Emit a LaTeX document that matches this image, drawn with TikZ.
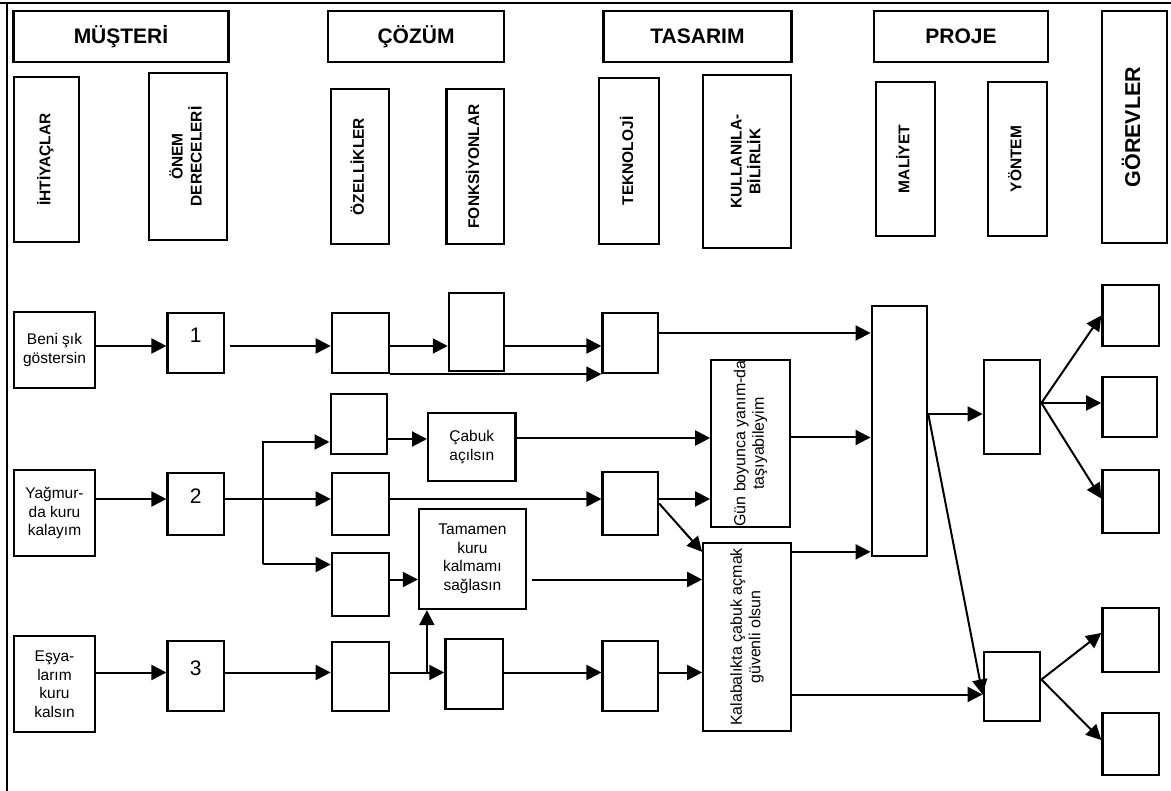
\documentclass[tikz,border=0pt]{standalone}
\usepackage{fontspec}
\setmainfont{Liberation Sans}
\usepackage{graphicx}
\usetikzlibrary{arrows.meta,calc}

\newcommand{\vtext}[1]{\rotatebox{90}{\begin{tabular}{@{}c@{}}#1\end{tabular}}}

\begin{document}
\begin{tikzpicture}[
    x=1pt,
    y=-1pt,
    box/.style={draw, line width=2.3pt, inner sep=0pt},
    wh/.style 2 args={minimum width=#1pt, minimum height=#2pt},
    head/.style={box, font=\bfseries\fontsize{21}{24}\selectfont},
    colhead/.style={box, font=\bfseries\fontsize{15.5}{18.5}\selectfont},
    txt/.style={box, align=center, font=\fontsize{15.5}{18.5}\selectfont},
    vtxt/.style={box, font=\fontsize{16}{18.5}\selectfont},
    numbox/.style={box, font=\fontsize{21}{24}\selectfont, text depth=15pt},
    arr/.style={-{Triangle[length=15pt,width=15pt]}, line width=2pt}
]
    \useasboundingbox (0,0) rectangle (1171,791);

    % Frame
    \draw[line width=1.4pt] (0,3) -- (1171,3);
    \draw[line width=2pt] (7,3) -- (7,791);

    % Headers
    \node[head, wh={215}{51}] (mus) at (121,36.5) {MÜŞTERİ};
    \node[head, wh={176}{51}] (coz) at (416,36.5) {ÇÖZÜM};
    \node[head, wh={188}{51}] (tas) at (697.5,36.5) {TASARIM};
    \node[head, wh={174}{51}] (pro) at (961,36.5) {PROJE};
    \node[box, wh={64.5}{232}, font=\bfseries\fontsize{21.5}{24}\selectfont] (gor) at (1134.5,127) {\vtext{GÖREVLER}};

    % Column labels
    \node[colhead, wh={65.5}{165}] (ihc) at (46.5,159.5) {\vtext{İHTİYAÇLAR}};
    \node[colhead, wh={78}{167}] (onc) at (188.3,156.5) {\vtext{ÖNEM\\DERECELERİ}};
    \node[colhead, wh={58.5}{155}] (ozc) at (360,166.5) {\vtext{ÖZELLİKLER}};
    \node[colhead, wh={57.5}{155}] (fnc) at (475.3,166.5) {\vtext{FONKSİYONLAR}};
    \node[colhead, wh={60}{166}] (tkc) at (629.2,161) {\vtext{TEKNOLOJİ}};
    \node[colhead, wh={88}{173}] (kuc) at (747.3,161.5) {\vtext{KULLANILA-\\BİLİRLİK}};
    \node[colhead, wh={59}{154}] (mac) at (905.6,159) {\vtext{MALİYET}};
    \node[colhead, wh={59}{154}] (yoc) at (1017.6,159) {\vtext{YÖNTEM}};

    % Row 1
    \node[txt, wh={81.5}{76}] (ih1) at (54.5,350) {Beni şık\\göstersin};
    \node[numbox, wh={56.3}{60}] (on1) at (195.7,343) {1};
    \node[box, wh={57.4}{60}] (oz1) at (360.5,343) {};
    \node[box, wh={55}{78}] (fn1) at (476.4,332) {};
    \node[box, wh={55.4}{60}] (tk1) at (630.3,343) {};
    \node[box, wh={55.4}{250}] (mal) at (899.4,431) {};

    % Row 2
    \node[txt, wh={81.5}{86}] (ih2) at (54.5,513) {Yağmur-\\da kuru\\kalayım};
    \node[numbox, wh={56.3}{62}] (on2) at (195.7,504) {2};
    \node[box, wh={56.3}{60}] (oz2a) at (358.8,424) {};
    \node[box, wh={57.4}{62}] (oz2b) at (360.5,504) {};
    \node[box, wh={57.4}{63}] (oz2c) at (360.5,584.5) {};
    \node[txt, wh={87.3}{68}] (cab) at (471.8,447) {Çabuk\\açılsın};
    \node[txt, wh={106.8}{100}] (tam) at (472.4,559) {Tamamen\\kuru\\kalmamı\\sağlasın};
    \node[box, wh={55.4}{63}] (tk2) at (630.3,503.5) {};
    \node[vtxt, wh={79}{167}] (gun) at (750.8,443.5) {\vtext{Gün boyunca yanım-da\\taşıyabileyim}};
    \node[vtxt, wh={88}{188}] (kal) at (747.3,637) {\vtext{Kalabalıkta çabuk açmak\\güvenli olsun}};

    % Row 3
    \node[txt, wh={81.5}{96}] (ih3) at (54.5,684) {Eşya-\\larım\\kuru\\kalsın};
    \node[numbox, wh={56.3}{70}] (on3) at (195.7,676) {3};
    \node[box, wh={57.4}{69}] (oz3) at (360.5,676.5) {};
    \node[box, wh={57.4}{70}] (fn3) at (474.1,674) {};
    \node[box, wh={55.4}{70}] (tk3) at (630.3,676) {};

    % Yontem and gorevler
    \node[box, wh={56.5}{94}] (yn1) at (1012,407) {};
    \node[box, wh={56.5}{69}] (yn2) at (1012,686.5) {};
    \node[box, wh={56.5}{61}] (gr1) at (1130.7,315.5) {};
    \node[box, wh={54.3}{60}] (gr2) at (1129.5,407) {};
    \node[box, wh={56.5}{63}] (gr3) at (1130.7,501.5) {};
    \node[box, wh={56.5}{64}] (gr4) at (1130.7,640) {};
    \node[box, wh={56.5}{62}] (gr5) at (1130.7,744) {};

    % Row 1 arrows
    \coordinate (r1) at ([yshift=-3pt]on1.west);
    \draw[arr] (r1 -| ih1.east) -- (r1);
    \draw[arr, shorten <=5pt] (r1 -| on1.east) -- (r1 -| oz1.west);
    \draw[arr] (r1 -| oz1.east) -- (r1 -| fn1.west);
    \draw[arr] (r1 -| fn1.east) -- (r1 -| tk1.west);
    \draw[arr] (oz1.south east) -- (tk1.south west);
    \draw[arr] ([yshift=10pt]tk1.east) coordinate (a) -- (a -| mal.west);

    % Row 2 arrows
    \coordinate (r2) at ([yshift=5pt]oz2b.west);
    \coordinate (sp) at ($(on2.east)!0.36!(oz2b.west)$);
    \coordinate (b2a) at ([yshift=-18pt]oz2a.west);
    \coordinate (b2c) at ([yshift=20pt]oz2c.west);
    \draw[arr] (r2 -| ih2.east) -- (r2 -| on2.west);
    \draw[arr] (r2 -| on2.east) -- (r2);
    \draw[arr] (sp |- b2c) -- (sp |- b2a) -- (b2a);
    \draw[arr] (sp |- b2c) -- (b2c);
    \draw[arr] ([yshift=-15pt]oz2a.east) coordinate (a) -- (a -| cab.west);
    \draw[arr] ([yshift=9pt]cab.east) coordinate (a) -- (a -| gun.west);
    \draw[arr] ([yshift=6pt]gun.east) coordinate (a) -- (a -| mal.west);
    \draw[arr] (r2 -| oz2b.east) -- (r2 -| tk2.west);
    \draw[arr] (r2 -| tk2.east) -- (r2 -| gun.west);
    \draw[arr] (tk2.east) -- ([yshift=-10pt]kal.north west);
    \draw[arr] ([yshift=5pt]oz2c.east) coordinate (r2c) -- (r2c -| tam.west);
    \draw[arr, shorten <=5pt] (r2c -| tam.east) -- (r2c -| kal.west);
    \draw[arr] ([yshift=-10pt]kal.north east) coordinate (a) -- (a -| mal.west);

    % Row 3 arrows
    \coordinate (r3) at ([yshift=4pt]oz3.west);
    \coordinate (up) at ([xshift=9pt]tam.south west);
    \draw[arr] (r3 -| ih3.east) -- (r3 -| on3.west);
    \draw[arr] (r3 -| on3.east) -- (r3);
    \draw[arr] (r3 -| oz3.east) -- (r3 -| fn3.west);
    \draw[arr] (up |- r3) -- (up);
    \draw[arr] (r3 -| fn3.east) -- (r3 -| tk3.west);
    \draw[arr] (r3 -| tk3.east) -- (r3 -| kal.west);

    % Proje
    \coordinate (y1in) at ([yshift=-7pt]yn1.west);
    \coordinate (y2in) at ([yshift=-8pt]yn2.west);
    \draw[arr] (y1in -| mal.east) -- (y1in);
    \draw[arr] (y1in -| mal.east) -- (y2in);
    \draw[arr] (y2in -| kal.east) -- (y2in);

    % Gorevler
    \coordinate (y1out) at ([yshift=4pt]yn1.east);
    \coordinate (y2out) at ([yshift=7pt]yn2.east);
    \draw[arr] (y1out) -- (gr1.west);
    \draw[arr] (y1out) -- (y1out -| gr2.west);
    \draw[arr] (y1out) -- ([yshift=3pt]gr3.west);
    \draw[arr] (y2out) -- ([yshift=7pt]gr4.west);
    \draw[arr] (y2out) -- ([yshift=4pt]gr5.west);
\end{tikzpicture}
\end{document}
